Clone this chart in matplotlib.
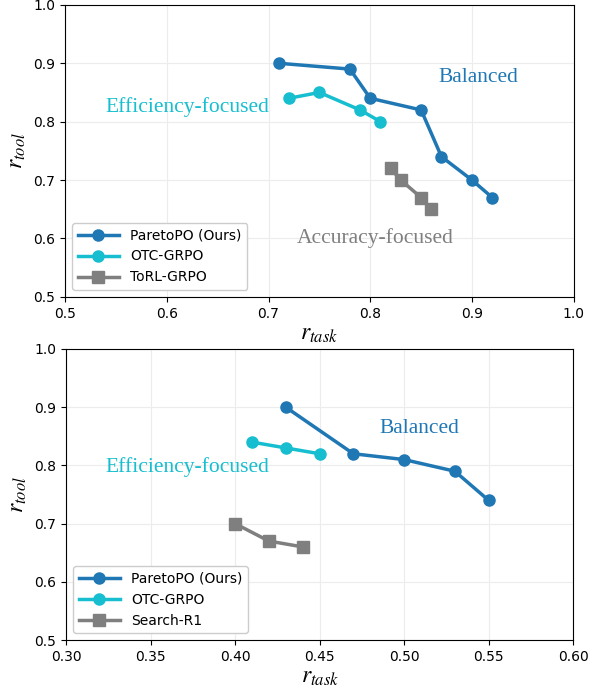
import matplotlib
matplotlib.use("Agg")
import matplotlib.pyplot as plt

plt.rcParams["mathtext.fontset"] = "stix"

BLUE = "#1f77b4"
CYAN = "#17becf"
GRAY = "#7f7f7f"

# top panel
top_pareto_x = [0.71, 0.78, 0.80, 0.85, 0.87, 0.90, 0.92]
top_pareto_y = [0.90, 0.89, 0.84, 0.82, 0.74, 0.70, 0.67]
top_otc_x = [0.72, 0.75, 0.79, 0.81]
top_otc_y = [0.84, 0.85, 0.82, 0.80]
top_torl_x = [0.82, 0.83, 0.85, 0.86]
top_torl_y = [0.72, 0.70, 0.67, 0.65]
top_xticks = [0.5, 0.6, 0.7, 0.8, 0.9, 1.0]

# bottom panel
bot_pareto_x = [0.43, 0.47, 0.50, 0.53, 0.55]
bot_pareto_y = [0.90, 0.82, 0.81, 0.79, 0.74]
bot_otc_x = [0.41, 0.43, 0.45]
bot_otc_y = [0.84, 0.83, 0.82]
bot_search_x = [0.40, 0.42, 0.44]
bot_search_y = [0.70, 0.67, 0.66]
bot_xticks = [0.30, 0.35, 0.40, 0.45, 0.50, 0.55, 0.60]

yticks = [0.5, 0.6, 0.7, 0.8, 0.9, 1.0]

fig = plt.figure(figsize=(5.97, 6.92), dpi=100)
ax1 = fig.add_axes([0.109, 0.571, 0.852, 0.422])
ax2 = fig.add_axes([0.1106, 0.0751, 0.8494, 0.4206])


def style(ax, xticks, fmt):
    ax.set_xticks(xticks)
    ax.set_xticklabels([fmt.format(t) for t in xticks])
    ax.set_yticks(yticks)
    ax.set_yticklabels(["{:.1f}".format(t) for t in yticks])
    ax.set_xlim(xticks[0], xticks[-1])
    ax.set_ylim(0.5, 1.0)
    ax.grid(True, color="#ececec", linewidth=0.8)
    ax.set_axisbelow(True)
    ax.tick_params(labelsize=10)
    ax.set_xlabel(r"$r_{task}$", fontsize=17, labelpad=0)
    ax.set_ylabel(r"$r_{tool}$", fontsize=17, labelpad=4)
    ax.legend(loc="lower left", fontsize=10, framealpha=1, edgecolor="#cccccc",
              handlelength=3)


kw = dict(linewidth=2.5, markersize=8)

ax1.plot(top_pareto_x, top_pareto_y, "-o", color=BLUE, label="ParetoPO (Ours)", **kw)
ax1.plot(top_otc_x, top_otc_y, "-o", color=CYAN, label="OTC-GRPO", **kw)
ax1.plot(top_torl_x, top_torl_y, "-s", color=GRAY, label="ToRL-GRPO", **kw)
ax1.text(0.62, 0.825, "Efficiency-focused", color=CYAN, fontsize=15.5,
         family="Liberation Serif", ha="center", va="center")
ax1.text(0.906, 0.875, "Balanced", color=BLUE, fontsize=15.5,
         family="Liberation Serif", ha="center", va="center")
ax1.text(0.805, 0.601, "Accuracy-focused", color=GRAY, fontsize=15.5,
         family="Liberation Serif", ha="center", va="center")
style(ax1, top_xticks, "{:.1f}")

ax2.plot(bot_pareto_x, bot_pareto_y, "-o", color=BLUE, label="ParetoPO (Ours)", **kw)
ax2.plot(bot_otc_x, bot_otc_y, "-o", color=CYAN, label="OTC-GRPO", **kw)
ax2.plot(bot_search_x, bot_search_y, "-s", color=GRAY, label="Search-R1", **kw)
ax2.text(0.3716, 0.797, "Efficiency-focused", color=CYAN, fontsize=15.5,
         family="Liberation Serif", ha="center", va="center")
ax2.text(0.509, 0.864, "Balanced", color=BLUE, fontsize=15.5,
         family="Liberation Serif", ha="center", va="center")
style(ax2, bot_xticks, "{:.2f}")

fig.savefig("out.png", dpi=100)
